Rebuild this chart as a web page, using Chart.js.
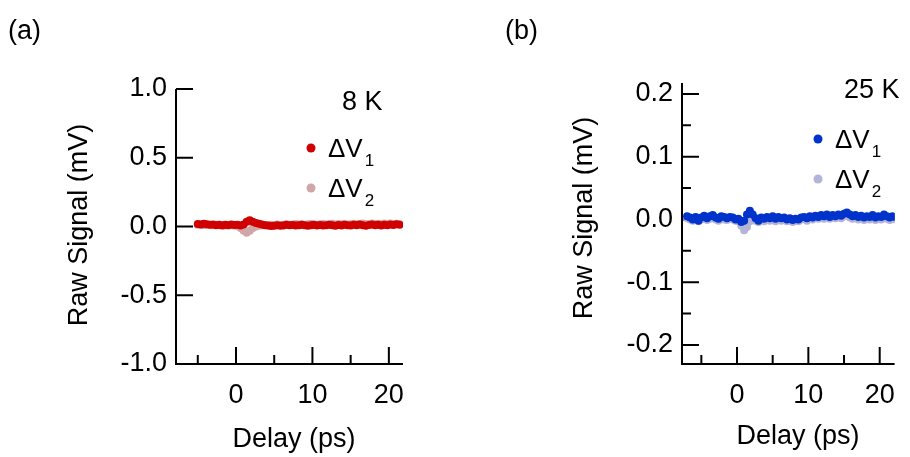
<!DOCTYPE html>
<html>
<head>
<meta charset="utf-8">
<script src="https://cdn.jsdelivr.net/npm/chart.js@4.4.1/dist/chart.umd.min.js"></script>
<style>
  body { margin: 0; background: #fff; }
  .panel { position: absolute; top: 0; width: 455px; height: 457px; }
</style>
</head>
<body>
<div class="panel" style="left:0"><canvas id="chartA" width="455" height="457"></canvas></div>
<div class="panel" style="left:455px"><canvas id="chartB" width="455" height="457"></canvas></div>
<script>
// Panel (a): 8 K
const delayA = [-5.0, -4.6, -4.2, -3.8, -3.4, -3.0, -2.6, -2.2, -1.8, -1.4, -1.0, -0.6, -0.2, 0.2, 0.6, 1.0, 1.4, 1.8, 2.2, 2.6,
  3.0, 3.4, 3.8, 4.2, 4.6, 5.0, 5.4, 5.8, 6.2, 6.6, 7.0, 7.4, 7.8, 8.2, 8.6, 9.0, 9.4, 9.8, 10.2, 10.6,
  11.0, 11.4, 11.8, 12.2, 12.6, 13.0, 13.4, 13.8, 14.2, 14.6, 15.0, 15.4, 15.8, 16.2, 16.6, 17.0, 17.4, 17.8, 18.2, 18.6,
  19.0, 19.4, 19.8, 20.2, 20.6, 21.0, 21.4];
const dV1A = [0.018, 0.015, 0.020, 0.017, 0.012, 0.015, 0.010, 0.013, 0.008, 0.012, 0.010, 0.014, 0.011, 0.012, 0.008, 0.015, 0.035, 0.045, 0.035, 0.025,
  0.020, 0.015, 0.010, 0.008, 0.004, 0.006, 0.010, 0.005, 0.008, 0.012, 0.009, 0.011, 0.007, 0.010, 0.013, 0.009, 0.006, 0.010, 0.012, 0.008,
  0.011, 0.007, 0.010, 0.013, 0.009, 0.006, 0.011, 0.008, 0.012, 0.010, 0.007, 0.012, 0.009, 0.014, 0.010, 0.006, 0.011, 0.015, 0.009, 0.012,
  0.008, 0.013, 0.010, 0.015, 0.011, 0.016, 0.012];
const dV2A = [0.012, 0.014, 0.010, 0.013, 0.011, 0.009, 0.012, 0.010, 0.011, 0.008, 0.010, 0.009, 0.007, 0.004, -0.010, -0.030, -0.045, -0.030, -0.010, 0.000,
  0.006, 0.009, 0.011, 0.008, 0.012, 0.010, 0.014, 0.011, 0.013, 0.016, 0.012, 0.015, 0.018, 0.014, 0.017, 0.013, 0.016, 0.019, 0.015, 0.012,
  0.016, 0.018, 0.014, 0.017, 0.020, 0.015, 0.018, 0.016, 0.019, 0.014, 0.017, 0.020, 0.016, 0.018, 0.021, 0.017, 0.019, 0.022, 0.018, 0.020,
  0.017, 0.021, 0.019, 0.022, 0.018, 0.020, 0.019];

// Panel (b): 25 K
const delayB = [-7.0, -6.6, -6.2, -5.8, -5.4, -5.0, -4.6, -4.2, -3.8, -3.4, -3.0, -2.6, -2.2, -1.8, -1.4, -1.0, -0.6, -0.2, 0.2, 0.6,
  1.0, 1.4, 1.8, 2.2, 2.6, 3.0, 3.4, 3.8, 4.2, 4.6, 5.0, 5.4, 5.8, 6.2, 6.6, 7.0, 7.4, 7.8, 8.2, 8.6,
  9.0, 9.4, 9.8, 10.2, 10.6, 11.0, 11.4, 11.8, 12.2, 12.6, 13.0, 13.4, 13.8, 14.2, 14.6, 15.0, 15.4, 15.8, 16.2, 16.6,
  17.0, 17.4, 17.8, 18.2, 18.6, 19.0, 19.4, 19.8, 20.2, 20.6, 21.0, 21.4, 21.8, 22.2];
const dV1B = [0.005, 0.003, 0.000, 0.004, -0.002, 0.003, 0.006, 0.002, 0.005, 0.007, 0.003, 0.001, 0.005, 0.004, 0.002, 0.004, 0.003, 0.000, 0.001, -0.004,
  -0.002, 0.008, 0.014, 0.008, 0.002, -0.002, 0.003, 0.001, 0.004, 0.002, 0.005, 0.001, 0.004, 0.002, 0.003, 0.000, 0.002, -0.001, 0.001, 0.000,
  0.003, 0.004, 0.002, 0.005, 0.003, 0.006, 0.004, 0.007, 0.005, 0.008, 0.004, 0.007, 0.005, 0.008, 0.006, 0.009, 0.011, 0.008, 0.005, 0.007,
  0.004, 0.006, 0.003, 0.005, 0.004, 0.007, 0.003, 0.005, 0.004, 0.008, 0.005, 0.003, 0.005, 0.004];
const dV2B = [0.002, 0.000, -0.002, 0.001, -0.003, 0.000, 0.002, -0.001, 0.001, 0.003, 0.000, -0.002, 0.001, 0.000, -0.001, 0.001, 0.000, -0.002, -0.003, -0.010,
  -0.017, -0.012, -0.003, 0.001, -0.002, -0.004, 0.000, -0.003, 0.001, -0.002, 0.002, -0.003, 0.000, -0.002, 0.001, -0.003, -0.001, -0.004, -0.002, -0.003,
  0.000, 0.001, -0.002, 0.002, 0.000, 0.003, 0.001, 0.004, 0.001, 0.005, 0.001, 0.004, 0.002, 0.004, 0.002, 0.005, 0.006, 0.003, 0.001, 0.003,
  0.000, 0.002, -0.001, 0.002, 0.000, 0.003, -0.001, 0.002, 0.000, 0.004, 0.001, -0.001, 0.002, 0.000];

// axes
const xTicks = [-5, 0, 5, 10, 15, 20];
const xTickLabels = [0, 10, 20];
const yTicksA = [-1.0, -0.5, 0.0, 0.5, 1.0];
const yTicksB = [-0.2, -0.15, -0.1, -0.05, 0.0, 0.05, 0.1, 0.15, 0.2];
const yTickLabelsB = [-0.2, -0.1, 0.0, 0.1, 0.2];

const FONT = "'Liberation Sans', Arial, sans-serif";

// axis lines + inward ticks go under the points, text goes on top
const panelDeco = {
  id: "panelDeco",
  beforeDatasetsDraw(chart, args, o) {
    const ctx = chart.ctx;
    const { left, right, top, bottom } = chart.chartArea;
    const xs = chart.scales.x, ys = chart.scales.y;
    ctx.save();
    ctx.strokeStyle = "#000";
    ctx.lineWidth = 2;
    ctx.lineJoin = "miter";
    ctx.beginPath();
    ctx.moveTo(left, top);
    ctx.lineTo(left, bottom);
    ctx.lineTo(right, bottom);
    ctx.stroke();

    ctx.beginPath();
    xs.ticks.forEach(t => {
      const px = xs.getPixelForValue(t.value);
      const len = xTickLabels.includes(t.value) ? 17 : 9;
      ctx.moveTo(px, bottom);
      ctx.lineTo(px, bottom - len);
    });
    ys.ticks.forEach(t => {
      const py = ys.getPixelForValue(t.value);
      const len = o.yMajor.some(v => Math.abs(v - t.value) < 1e-9) ? 17 : 9;
      ctx.moveTo(left, py);
      ctx.lineTo(left + len, py);
    });
    ctx.stroke();
    ctx.restore();
  },
  afterDraw(chart, args, o) {
    const ctx = chart.ctx;
    ctx.save();
    ctx.fillStyle = "#000";
    ctx.textBaseline = "alphabetic";
    ctx.textAlign = "left";
    ctx.font = "27px " + FONT;
    ctx.fillText(o.panel, o.panelX, 39);
    ctx.fillText(o.temp, o.tempX, o.tempY);

    // axis titles
    ctx.textAlign = "center";
    ctx.fillText("Delay (ps)", o.xTitleX, o.xTitleY);
    ctx.save();
    ctx.translate(o.yTitleX, o.yTitleY);
    ctx.rotate(-Math.PI / 2);
    ctx.textBaseline = "middle";
    ctx.fillText("Raw Signal (mV)", 0, 0);
    ctx.restore();

    // legend
    chart.data.datasets.forEach((ds, i) => {
      const my = o.legendY[i];
      ctx.fillStyle = ds.backgroundColor;
      ctx.beginPath();
      ctx.arc(o.legendX, my, 4.5, 0, Math.PI * 2);
      ctx.fill();
      ctx.fillStyle = "#000";
      ctx.textAlign = "left";
      ctx.font = "26px " + FONT;
      ctx.fillText("ΔV", o.legendX + 17, my + 9);
      const w = ctx.measureText("ΔV").width;
      ctx.font = "17px " + FONT;
      ctx.fillText(String(i + 1), o.legendX + 19 + w, my + 18);
    });
    ctx.restore();
  }
};

function makePanel(id, cfg) {
  return new Chart(document.getElementById(id), {
    type: "scatter",
    data: {
      datasets: cfg.series.map(s => ({
        label: s.label,
        data: s.x.map((d, i) => ({ x: d, y: s.y[i] })),
        backgroundColor: s.color,
        borderWidth: 0,
        pointRadius: 4,
        pointHoverRadius: 4
      }))
    },
    options: {
      responsive: false,
      animation: false,
      events: [],
      layout: { padding: cfg.padding },
      plugins: {
        legend: { display: false },
        tooltip: { enabled: false },
        panelDeco: cfg.deco
      },
      scales: {
        x: {
          type: "linear",
          min: cfg.xMin,
          max: cfg.xMax,
          afterFit: s => { s.height = 93; },
          afterBuildTicks: s => { s.ticks = xTicks.map(v => ({ value: v })); },
          grid: { display: false, drawTicks: false },
          border: { display: false },
          ticks: {
            autoSkip: false,
            maxRotation: 0,
            padding: 15,
            color: "#000",
            font: { family: FONT, size: 27 },
            callback: v => xTickLabels.includes(v) ? String(v) : ""
          }
        },
        y: {
          type: "linear",
          min: cfg.yMin,
          max: cfg.yMax,
          afterFit: s => { s.width = cfg.yWidth; },
          afterBuildTicks: s => { s.ticks = cfg.yTicks.map(v => ({ value: v })); },
          grid: { display: false, drawTicks: false },
          border: { display: false },
          ticks: {
            autoSkip: false,
            padding: 9,
            color: "#000",
            font: { family: FONT, size: 27 },
            callback: v => cfg.deco.yMajor.some(m => Math.abs(m - v) < 1e-9) ? v.toFixed(1) : ""
          }
        }
      }
    },
    plugins: [panelDeco]
  });
}

makePanel("chartA", {
  series: [
    { label: "ΔV1", x: delayA, y: dV1A, color: "#d10000" },
    { label: "ΔV2", x: delayA, y: dV2A, color: "#d0a6a6" }
  ],
  xMin: -7.85, xMax: 21.85,
  yMin: -1.0, yMax: 1.0,
  yTicks: yTicksA,
  yWidth: 176,
  padding: { left: 0, top: 89, right: 52, bottom: 0 },
  deco: {
    panel: "(a)", panelX: 8,
    temp: "8 K", tempX: 342, tempY: 110,
    yMajor: yTicksA,
    xTitleX: 294, xTitleY: 447,
    yTitleX: 80, yTitleY: 225,
    legendX: 311, legendY: [148, 188]
  }
});

makePanel("chartB", {
  series: [
    { label: "ΔV1", x: delayB, y: dV1B, color: "#0033cc" },
    { label: "ΔV2", x: delayB, y: dV2B, color: "#b4b4d6" }
  ],
  xMin: -7.71, xMax: 22.09,
  yMin: -0.2303, yMax: 0.2175,
  yTicks: yTicksB,
  yWidth: 227,
  padding: { left: 0, top: 83, right: 0, bottom: 0 },
  deco: {
    panel: "(b)", panelX: 50,
    temp: "25 K", tempX: 389, tempY: 98,
    yMajor: yTickLabelsB,
    xTitleX: 343, xTitleY: 444,
    yTitleX: 130, yTitleY: 218,
    legendX: 363, legendY: [139, 179]
  }
});
</script>
</body>
</html>
